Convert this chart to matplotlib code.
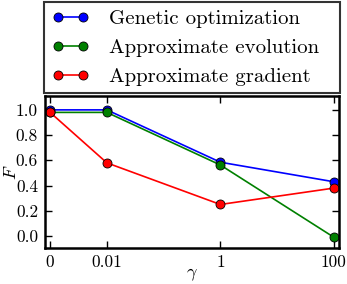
import matplotlib
matplotlib.use("Agg")
import matplotlib.pyplot as plt

gamma_labels = ["0", "0.01", "1", "100"]
gamma_pos = [-3, -2, 0, 2]  # log10 positions, 0 drawn one decade left
genetic = [1.0, 1.0, 0.585, 0.43]
evolution = [0.98, 0.98, 0.563, -0.01]
gradient = [0.98, 0.58, 0.25, 0.38]
yticks = [0.0, 0.2, 0.4, 0.6, 0.8, 1.0]

plt.rcParams['font.family'] = ['cmr10', 'DejaVu Serif']
plt.rcParams['mathtext.fontset'] = 'cm'
plt.rcParams['axes.formatter.use_mathtext'] = True

W, H = 347, 284
fig = plt.figure(figsize=(W/100, H/100), dpi=100)
ax = fig.add_axes([45/W, 1-248/H, (339-45)/W, (248-96)/H])

kw = dict(marker='o', markersize=6.5, markeredgecolor='black', markeredgewidth=0.6, linewidth=1.2)
l1, = ax.plot(gamma_pos, genetic, color='blue', markerfacecolor='blue', label='Genetic optimization', **kw)
l2, = ax.plot(gamma_pos, evolution, color='green', markerfacecolor='green', label='Approximate evolution', **kw)
l3, = ax.plot(gamma_pos, gradient, color='red', markerfacecolor='red', label='Approximate gradient', **kw)

ax.set_xlim(-3.09, 2.09)
ax.set_ylim(-0.095, 1.11)
ax.set_xticks(gamma_pos)
ax.set_xticklabels(gamma_labels)
ax.set_yticks(yticks)
ax.set_yticklabels([f"{v:.1f}" for v in yticks])
ax.tick_params(direction='in', top=True, right=True, labelsize=12.5, length=5, width=1, pad=5)
for s in ax.spines.values():
    s.set_linewidth(1.8)
ax.set_xlabel(r'$\gamma$', fontsize=13, labelpad=-3)
ax.set_ylabel(r'$F$', fontsize=13, labelpad=-2)

leg = fig.legend(handles=[l1, l2, l3], loc='upper left',
                 bbox_to_anchor=(44/W, 1-92/H, (340-44)/W, 90/H),
                 mode='expand', numpoints=2, fontsize=15, frameon=True, fancybox=False,
                 borderaxespad=0, handlelength=1.8, handletextpad=0.95, labelspacing=0.5, borderpad=0.35)
leg.get_frame().set_edgecolor('black')
leg.get_frame().set_linewidth(1.5)

fig.savefig('out.png', dpi=100)
